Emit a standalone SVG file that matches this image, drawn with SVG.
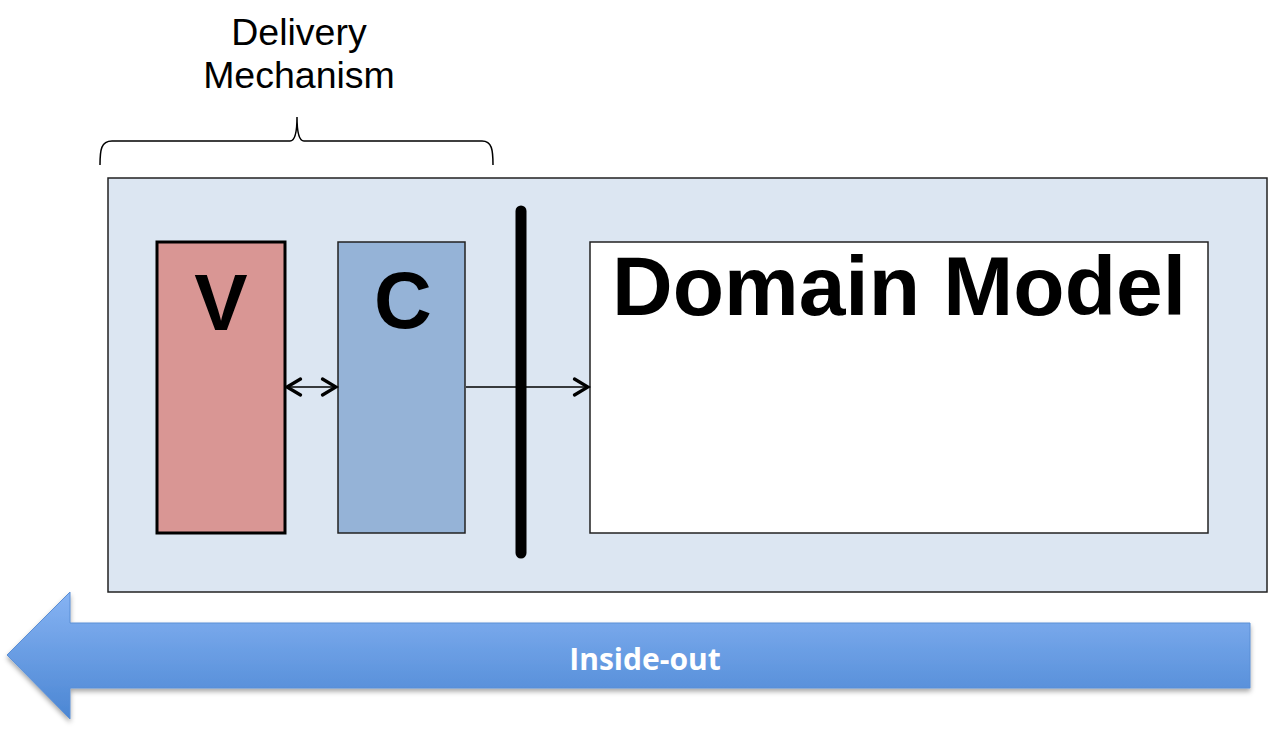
<svg xmlns="http://www.w3.org/2000/svg" width="1268" height="731" viewBox="0 0 1268 731">
<defs>
<linearGradient id="ag" x1="0" y1="0" x2="0" y2="1">
<stop offset="0" stop-color="#86b3f3"/>
<stop offset="1" stop-color="#4b86d3"/>
</linearGradient>
<filter id="sh" x="-5%" y="-20%" width="110%" height="150%">
<feDropShadow dx="0" dy="3" stdDeviation="2.5" flood-color="#000" flood-opacity="0.35"/>
</filter>
<marker id="ah" viewBox="0 0 20 20" refX="18.5" refY="10" markerWidth="20" markerHeight="20" markerUnits="userSpaceOnUse" orient="auto-start-reverse">
<path d="M4,2 L17.5,10 L4,18" fill="none" stroke="#000" stroke-width="3.2" stroke-linecap="round" stroke-linejoin="miter"/>
</marker>
<style>
.lbl{font-family:"Liberation Sans",Arial,sans-serif;font-weight:bold;fill:#000;text-anchor:middle}
.cap{font-family:"Liberation Sans",Arial,sans-serif;font-size:37.5px;fill:#000;text-anchor:middle}
</style>
</defs>
<rect width="1268" height="731" fill="#fff"/>
<g id="brace-label">
<text class="cap" x="299" y="45">Delivery</text>
<text class="cap" x="299" y="88">Mechanism</text>
<path d="M100,165 C100,150 101,141 112,141 L290,141 C295,141 297,130 297,117 C297,130 299,141 304,141 L482,141 C492,141 493,150 493,165" fill="none" stroke="#000" stroke-width="1.5"/>
</g>
<g id="outer">
<rect x="108" y="178" width="1159" height="414" fill="#dce6f2" stroke="#222" stroke-width="1.5"/>
</g>
<g id="view">
<rect x="157" y="242" width="128" height="291" fill="#d99694" stroke="#000" stroke-width="3"/>
<text class="lbl" x="221" y="330" font-size="80">V</text>
</g>
<g id="controller">
<rect x="338" y="242" width="127" height="291" fill="#95b3d7" stroke="#222" stroke-width="1.5"/>
<text class="lbl" x="403" y="328" font-size="80">C</text>
</g>
<g id="boundary">
<line x1="521" y1="211" x2="521" y2="553" stroke="#000" stroke-width="11" stroke-linecap="round"/>
</g>
<g id="domain">
<rect x="590" y="242" width="618" height="291" fill="#fff" stroke="#222" stroke-width="1.5"/>
<text class="lbl" x="899" y="315" font-size="84">Domain Model</text>
</g>
<g id="connectors">
<line x1="286" y1="387" x2="337" y2="387" stroke="#000" stroke-width="1.5" marker-start="url(#ah)" marker-end="url(#ah)"/>
<line x1="466" y1="387" x2="589" y2="387" stroke="#000" stroke-width="1.5" marker-end="url(#ah)"/>
</g>
<g id="inside-out">
<path d="M7,655 L70,592 L70,623 L1250,623 L1250,688 L70,688 L70,719 Z" fill="url(#ag)" stroke="#5a8fd6" stroke-width="1" filter="url(#sh)"/>
<text x="645" y="670" font-family="'Open Sans','Liberation Sans',sans-serif" font-weight="bold" font-size="30" fill="#fff" text-anchor="middle">Inside-out</text>
</g>
</svg>
